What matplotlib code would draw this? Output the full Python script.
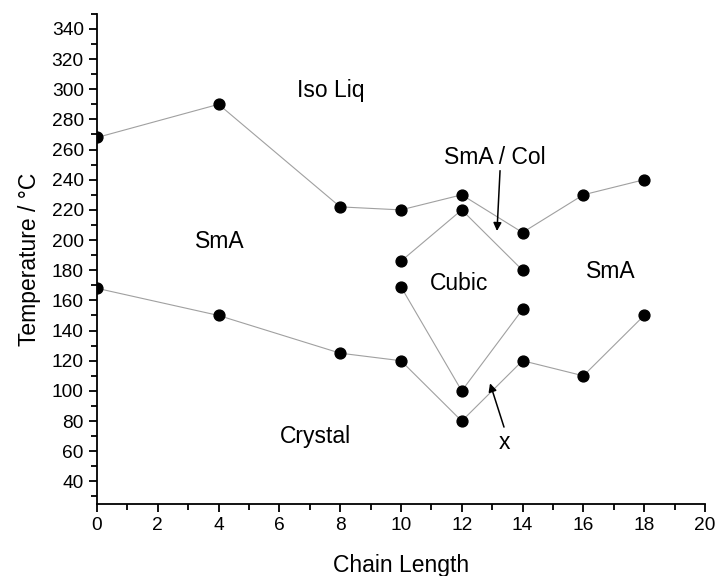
import numpy as np
import matplotlib.pyplot as plt
from matplotlib.ticker import MultipleLocator

plt.rcParams['font.family'] = ['Liberation Sans', 'DejaVu Sans']

# phase boundaries
iso_x = [0, 4, 8, 10, 12, 14, 16, 18]
iso_y = [268, 290, 222, 220, 230, 205, 230, 240]
cub_up_x = [10, 12, 14]
cub_up_y = [186, 220, 180]
cub_lo_x = [10, 12, 14]
cub_lo_y = [169, 100, 154]
cry_x = [0, 4, 8, 10, 12, 14, 16, 18]
cry_y = [168, 150, 125, 120, 80, 120, 110, 150]

fig = plt.figure(figsize=(7.16, 5.76), dpi=100)
ax = fig.add_axes([0.1355, 0.125, 0.849, 0.851])

for xs, ys in [(iso_x, iso_y), (cub_up_x, cub_up_y), (cub_lo_x, cub_lo_y), (cry_x, cry_y)]:
    ax.plot(xs, ys, color='#a0a0a0', lw=0.8, zorder=1)
    ax.plot(xs, ys, 'o', color='black', ms=7.8, zorder=2)

ax.set_xlim(0, 20)
ax.xaxis.set_major_locator(MultipleLocator(2))
ax.xaxis.set_minor_locator(MultipleLocator(1))
ax.yaxis.set_minor_locator(MultipleLocator(10))
ax.set_yticks(np.arange(40, 341, 20))
ax.set_ylim(25, 350)
ax.spines['top'].set_visible(False)
ax.spines['right'].set_visible(False)
ax.spines['left'].set_linewidth(1.3)
ax.spines['bottom'].set_linewidth(1.3)
ax.tick_params(which='major', length=6, width=1.3, labelsize=13.8, direction='out')
ax.tick_params(which='minor', length=4, width=1.3, direction='out')

ax.set_xlabel('Chain Length', fontsize=16.5, labelpad=14)
ax.set_ylabel('Temperature / °C', fontsize=16.5, labelpad=8)

tkw = dict(fontsize=16.5, ha='center', va='center')
ax.text(7.7, 299, 'Iso Liq', **tkw)
ax.text(4.05, 199, 'SmA', **tkw)
ax.text(13.1, 255, 'SmA / Col', **tkw)
ax.text(11.9, 171, 'Cubic', **tkw)
ax.text(16.9, 179, 'SmA', **tkw)
ax.text(7.2, 70, 'Crystal', **tkw)
ax.text(13.4, 66, 'x', **tkw)

akw = dict(arrowstyle='-|>', color='black', lw=1.1, mutation_scale=12, shrinkA=0, shrinkB=0)
ax.annotate('', xy=(13.16, 206), xytext=(13.26, 246), arrowprops=akw)
ax.annotate('', xy=(12.93, 105), xytext=(13.39, 76), arrowprops=akw)

fig.savefig('out.png', dpi=100)
